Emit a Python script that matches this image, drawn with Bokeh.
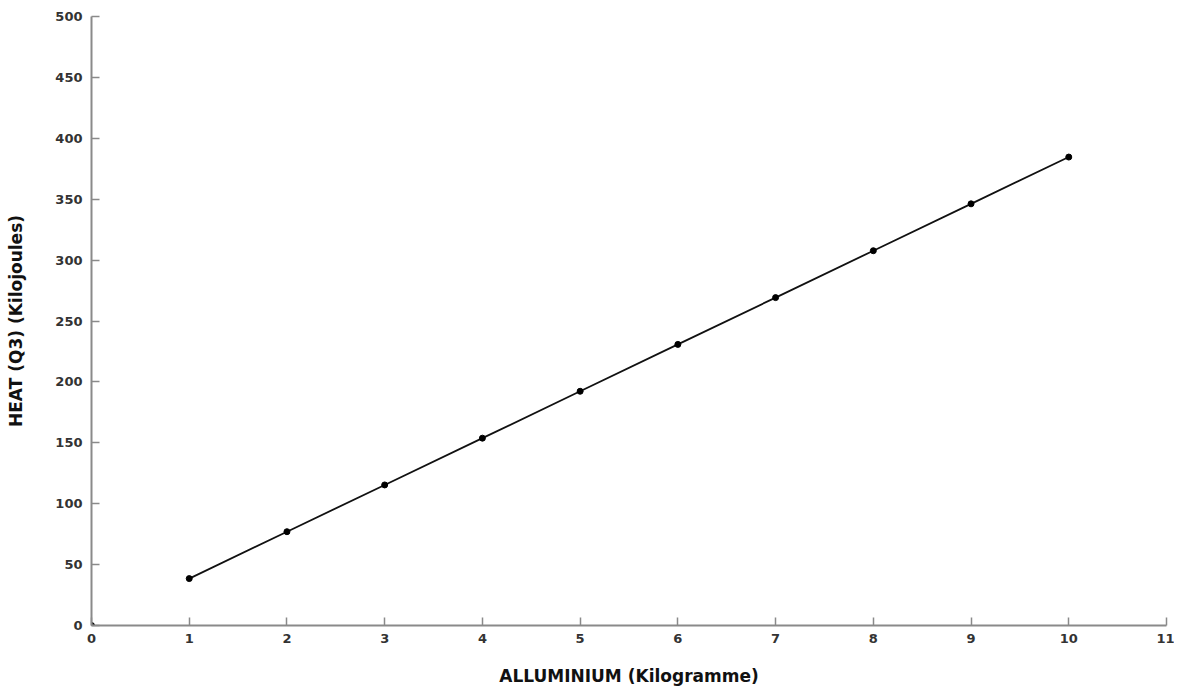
from bokeh.plotting import figure
from bokeh.models import Range1d, SingleIntervalTicker
from bokeh.embed import file_html
from bokeh.resources import INLINE

# data
mass_kg = [1, 2, 3, 4, 5, 6, 7, 8, 9, 10]
heat_kj = [38.5, 77.0, 115.4, 153.8, 192.3, 230.8, 269.2, 307.7, 346.2, 384.6]
origin_x = [0]
origin_y = [0]

p = figure(width=1174, height=688, output_backend="svg", toolbar_location=None,
           x_range=Range1d(0, 11), y_range=Range1d(0, 500),
           min_border_left=91, min_border_right=8, min_border_top=16, min_border_bottom=61)
p.outline_line_color = None
p.grid.visible = False
p.background_fill_color = "white"

p.line(mass_kg, heat_kj, line_color="#111111", line_width=1.8)
p.scatter(mass_kg, heat_kj, marker="circle", size=6, fill_color="black", line_color="black")
p.scatter(origin_x, origin_y, marker="circle", size=6, fill_color="black", line_color="black")

p.xaxis.ticker = SingleIntervalTicker(interval=1)
p.yaxis.ticker = SingleIntervalTicker(interval=50)

for ax in (p.xaxis, p.yaxis):
    ax.axis_line_color = "#8a8a8a"
    ax.axis_line_width = 2
    ax.major_tick_line_color = "#8a8a8a"
    ax.major_tick_line_width = 1.5
    ax.major_tick_in = 8
    ax.major_tick_out = 0
    ax.minor_tick_line_color = None
    ax.major_label_text_font = "DejaVu Sans"
    ax.major_label_text_font_size = "13px"
    ax.major_label_text_font_style = "bold"
    ax.major_label_text_color = "#333333"
    ax.axis_label_text_font = "DejaVu Sans"
    ax.axis_label_text_font_size = "17px"
    ax.axis_label_text_font_style = "bold"
    ax.axis_label_text_color = "#111111"

p.xaxis.axis_label = "ALLUMINIUM (Kilogramme)"
p.yaxis.axis_label = "HEAT (Q3) (Kilojoules)"
p.xaxis.major_label_standoff = 4
p.yaxis.major_label_standoff = 5
p.xaxis.axis_label_standoff = 20
p.yaxis.axis_label_standoff = 26

open("out.html", "w").write(file_html(p, INLINE))
